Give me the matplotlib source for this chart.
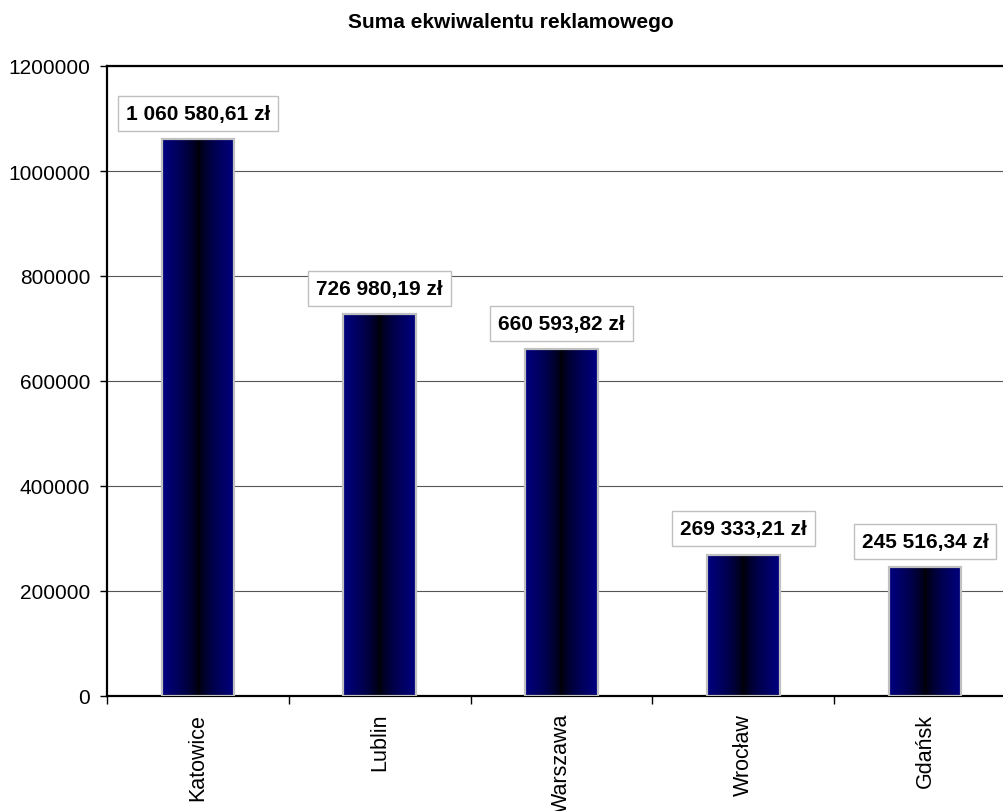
import numpy as np
import matplotlib.pyplot as plt
from matplotlib.colors import LinearSegmentedColormap

# Data
cities = ["Katowice", "Lublin", "Warszawa", "Wrocław", "Gdańsk"]
values = [1060580.61, 726980.19, 660593.82, 269333.21, 245516.34]
yticks = [0, 200000, 400000, 600000, 800000, 1000000, 1200000]


def fmt_pln(v):
    s = f"{v:,.2f}"
    return s.replace(",", " ").replace(".", ",") + " zł"


plt.rcParams['font.family'] = ['Liberation Sans', 'DejaVu Sans']

fig = plt.figure(figsize=(10.04, 8.12), dpi=100)
ax = fig.add_axes([107 / 1004, 1 - 697 / 812, 909 / 1004, 630 / 812])

x = np.arange(len(cities))
bar_w = 0.4
bars = ax.bar(x, values, width=bar_w, facecolor="none", edgecolor="#c0c0c0",
              linewidth=1.6, zorder=3)

# navy -> black -> navy horizontal gradient inside each bar
cmap = LinearSegmentedColormap.from_list("navy", ["#000000", "#000080"])
u = np.linspace(0, 1, 256)
grad = (np.abs(2 * u - 1) ** 0.6).reshape(1, -1)
for b in bars:
    im = ax.imshow(grad, cmap=cmap, aspect="auto", vmin=0, vmax=1,
                   extent=[b.get_x(), b.get_x() + b.get_width(), 0, b.get_height()],
                   zorder=2, interpolation="bilinear")
    im.set_clip_path(b)

# value labels
for xi, v in zip(x, values):
    ax.annotate(fmt_pln(v), (xi, v), xytext=(0, 18.5), textcoords="offset points",
                ha="center", va="center", fontsize=15, fontweight="bold",
                bbox=dict(boxstyle="square,pad=0.38", fc="white", ec="#c0c0c0", lw=1),
                zorder=5)

ax.set_xlim(-0.5, len(cities) - 0.5)
ax.set_ylim(0, 1200000)
ax.set_yticks(yticks)
ax.set_yticklabels([str(t) for t in yticks])
ax.yaxis.grid(True, color="#555555", linewidth=0.8, zorder=0)
ax.set_axisbelow(True)

ax.set_xticks(x)
ax.set_xticklabels(cities, rotation=90)
ax.set_xticks(np.arange(len(cities) + 1) - 0.5, minor=True)
ax.tick_params(axis="x", which="major", length=0, pad=12, labelsize=15.5)
ax.tick_params(axis="x", which="minor", length=6, width=1, direction="out")
ax.tick_params(axis="y", length=5, width=1, direction="out", pad=7, labelsize=15)

for side in ["left", "bottom", "top"]:
    ax.spines[side].set_linewidth(1.6)
    ax.spines[side].set_color("black")
ax.spines["right"].set_visible(False)

fig.text(511 / 1004, 1 - 23 / 812, "Suma ekwiwalentu reklamowego", ha="center",
         va="center", fontsize=15, fontweight="bold")

fig.savefig("out.png", dpi=100)
